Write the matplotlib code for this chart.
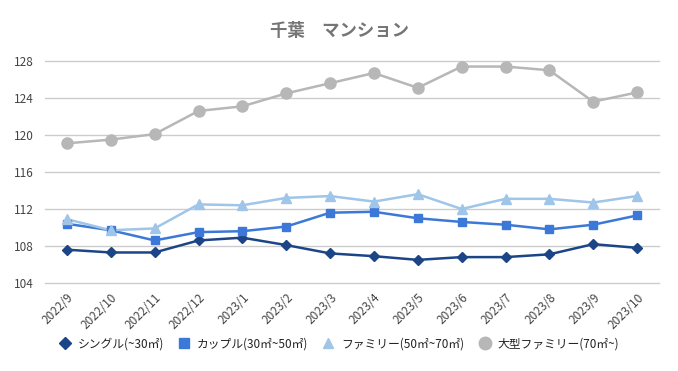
import matplotlib
matplotlib.use("Agg")
import matplotlib.pyplot as plt

plt.rcParams['font.family'] = ['Noto Sans CJK JP', 'DejaVu Sans']

months = ["2022/9", "2022/10", "2022/11", "2022/12", "2023/1", "2023/2", "2023/3",
          "2023/4", "2023/5", "2023/6", "2023/7", "2023/8", "2023/9", "2023/10"]
single = [107.6, 107.3, 107.3, 108.6, 108.9, 108.1, 107.2, 106.9, 106.5, 106.8, 106.8, 107.1, 108.2, 107.8]
couple = [110.4, 109.7, 108.6, 109.5, 109.6, 110.1, 111.6, 111.7, 111.0, 110.6, 110.3, 109.8, 110.3, 111.3]
family = [110.9, 109.7, 109.9, 112.5, 112.4, 113.2, 113.4, 112.8, 113.6, 112.0, 113.1, 113.1, 112.7, 113.4]
large = [119.1, 119.5, 120.1, 122.6, 123.1, 124.5, 125.6, 126.7, 125.1, 127.4, 127.4, 127.0, 123.6, 124.6]
labels = ["シングル(~30㎡)", "カップル(30㎡~50㎡)", "ファミリー(50㎡~70㎡)", "大型ファミリー(70㎡~)"]
yticks = [104, 108, 112, 116, 120, 124, 128]

fig = plt.figure(figsize=(6.78, 3.71), dpi=100)
ax = fig.add_axes([45/678, 1-283/371, (659-45)/678, (283-61)/371])

x = list(range(len(months)))
series = [
    (single, '#1c4587', 'D', 5),
    (couple, '#3c78d8', 's', 5.5),
    (family, '#9fc5e8', '^', 6.5),
    (large, '#b7b7b7', 'o', 8),
]
handles = []
for (vals, col, mk, ms), lab in zip(series, labels):
    ax.plot(x, vals, color=col, lw=1.8, zorder=3)
    ax.plot(x, vals, color=col, marker=mk, ms=ms, ls='none', zorder=4)
    h, = ax.plot([], [], color=col, marker=mk, ms=ms + 1, ls='none', label=lab)
    handles.append(h)

ax.set_xlim(-0.5, len(months) - 0.5)
ax.set_ylim(104, 128)
ax.set_yticks(yticks)
ax.set_yticklabels([str(v) for v in yticks])
ax.set_xticks(x)
ax.set_xticklabels(months, rotation=45, ha='right', rotation_mode='anchor')
for gl in ax.yaxis.get_gridlines():
    gl.set_clip_on(False)
ax.grid(axis='y', color='#cccccc', lw=1)
for gl in ax.yaxis.get_gridlines():
    gl.set_clip_on(False)
ax.set_axisbelow(True)
for s in ax.spines.values():
    s.set_visible(False)
ax.tick_params(axis='both', length=0, labelsize=8.5, labelcolor='#444444')
ax.tick_params(axis='y', pad=8)
ax.tick_params(axis='x', pad=6)

fig.text(0.5, 1-31/371, "千葉　マンション", ha='center', va='center',
         fontsize=12.5, fontweight='bold', color='#757575')

fig.legend(handles=handles, loc='center', bbox_to_anchor=(0.5, 1-344/371), ncol=4,
           frameon=False, fontsize=8.5, handletextpad=0.6, columnspacing=1.2,
           handlelength=1.0, labelcolor='#222222')

fig.savefig("out.png", dpi=100, facecolor='white')
